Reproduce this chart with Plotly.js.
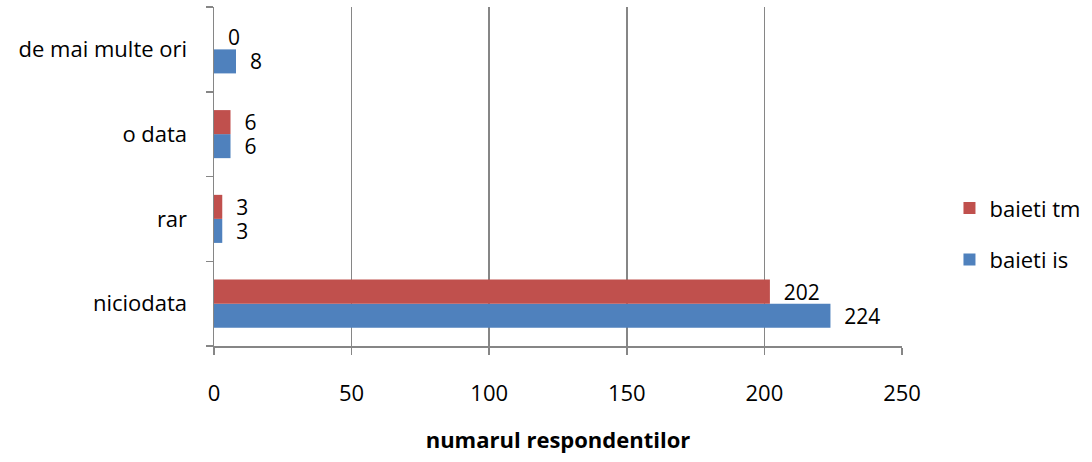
<!DOCTYPE html>
<html>
<head>
<meta charset="utf-8">
<script src="https://cdn.plot.ly/plotly-3.0.1.min.js"></script>
<style>html,body{margin:0;padding:0;background:#fff;}#chart{width:1092px;height:462px;}</style>
</head>
<body>
<div id="chart"></div>
<script>
const categories = ["niciodata", "rar", "o data", "de mai multe ori"];
const baietiIs = [224, 3, 6, 8];
const baietiTm = [202, 3, 6, 0];
const xTicks = [0, 50, 100, 150, 200, 250];

const FONT = "Open Sans, Noto Sans, sans-serif";

const traces = [
  {
    type: "bar", orientation: "h", name: "baieti is",
    y: categories, x: baietiIs,
    marker: {color: "#4F81BD"},
    text: baietiIs.map(String), texttemplate: "  %{text}",
    textposition: "outside", cliponaxis: false, constraintext: "none",
    textfont: {family: FONT, size: 21, color: "#000"},
    legendgroup: "g2", legendrank: 2
  },
  {
    type: "bar", orientation: "h", name: "baieti tm",
    y: categories, x: baietiTm,
    marker: {color: "#C0504D"},
    text: baietiTm.map(String), texttemplate: "  %{text}",
    textposition: "outside", cliponaxis: false, constraintext: "none",
    textfont: {family: FONT, size: 21, color: "#000"},
    legendgroup: "g1", legendrank: 1
  }
];

const layout = {
  width: 1092, height: 462,
  margin: {l: 214, r: 184, t: 7, b: 116},
  paper_bgcolor: "#fff", plot_bgcolor: "#fff",
  font: {family: FONT, size: 22, color: "#000"},
  barmode: "group", bargap: 0.433, bargroupgap: 0,
  showlegend: true,
  legend: {
    x: 1.069, xanchor: "left", y: 0.33, yanchor: "middle",
    traceorder: "grouped", tracegroupgap: 20,
    font: {family: FONT, size: 22, color: "#000"},
    bgcolor: "rgba(0,0,0,0)"
  },
  xaxis: {
    range: [0, 250], tickvals: xTicks, ticktext: xTicks.map(String),
    showgrid: true, gridcolor: "#868686", gridwidth: 1.5,
    showline: true, linecolor: "#868686", linewidth: 1.5,
    zeroline: false,
    ticks: "outside", ticklen: 7, tickcolor: "#868686", tickwidth: 1.5,
    ticklabelstandoff: 20,
    tickfont: {family: FONT, size: 22, color: "#000"},
    title: {text: "<b>numarul respondentilor</b>", font: {family: FONT, size: 22, color: "#000"}, standoff: 26},
    fixedrange: true
  },
  yaxis: {
    type: "category", categoryorder: "array", categoryarray: categories,
    showgrid: false, showline: true, linecolor: "#868686", linewidth: 1.5,
    zeroline: false,
    ticks: "outside", tickson: "boundaries", ticklen: 7, tickcolor: "#868686", tickwidth: 1.5,
    ticklabelstandoff: 21,
    tickfont: {family: FONT, size: 22, color: "#000"},
    fixedrange: true
  }
};

Plotly.newPlot("chart", traces, layout, {displayModeBar: false, staticPlot: true});
</script>
</body>
</html>
